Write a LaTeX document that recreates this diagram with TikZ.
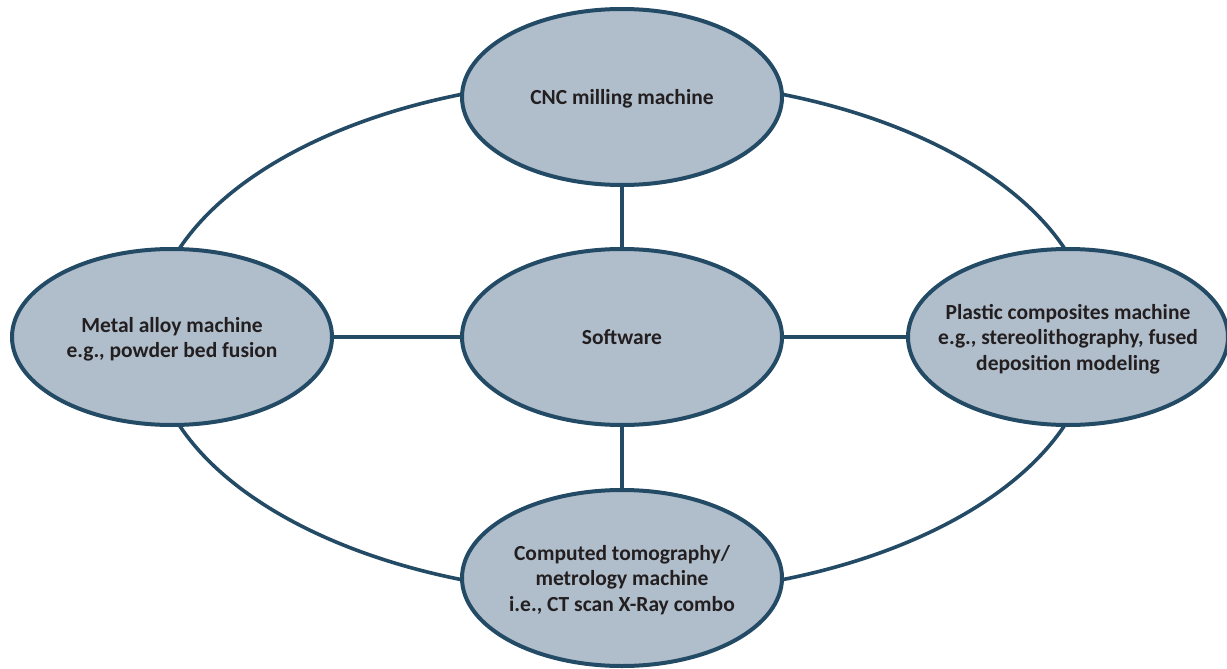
\documentclass[tikz,border=0pt]{standalone}
\usepackage{fontspec}
\setmainfont{Carlito}
\usetikzlibrary{shapes.geometric,backgrounds}
\definecolor{fillc}{HTML}{B0BDCB}
\definecolor{linec}{HTML}{244B65}
\definecolor{txtc}{HTML}{231F20}
\newcommand\mtext[1]{\makebox[0pt]{\raisebox{-8pt}[0pt][0pt]{\begin{tabular}{@{}c@{}}#1\end{tabular}}}}
\begin{document}
\begin{tikzpicture}[x=1pt,y=-1pt,
  mach/.style={ellipse, draw=linec, line width=4pt, fill=fillc,
    minimum width=320pt, minimum height=176pt, inner sep=0pt,
    text=txtc, font=\fontsize{21.5}{25.5}\selectfont\bfseries},
  link/.style={draw=linec, line width=4pt},
  ringline/.style={draw=linec, line width=3.6pt}]
\useasboundingbox (0,0) rectangle (1227,669);
\node[mach] (cnc) at (622,97) {\mtext{CNC milling machine}};
\node[mach] (sw) at (622,337) {\mtext{Software}};
\node[mach] (metal) at (172,337) {\mtext{Metal alloy machine\\e.g., powder bed fusion}};
\node[mach] (plastic) at (1068,337) {\mtext{Plastic composites machine\\e.g., stereolithography, fused\\deposition modeling}};
\node[mach] (ct) at (622,578) {\mtext{Computed tomography/\\metrology machine\\i.e., CT scan X-Ray combo}};
\begin{scope}[on background layer]
  \draw[ringline] (sw.center) ellipse[x radius=471pt, y radius=258pt];
  \draw[link] (cnc) -- (sw);
  \draw[link] (sw) -- (ct);
  \draw[link] (metal) -- (sw);
  \draw[link] (sw) -- (plastic);
\end{scope}
\end{tikzpicture}
\end{document}
